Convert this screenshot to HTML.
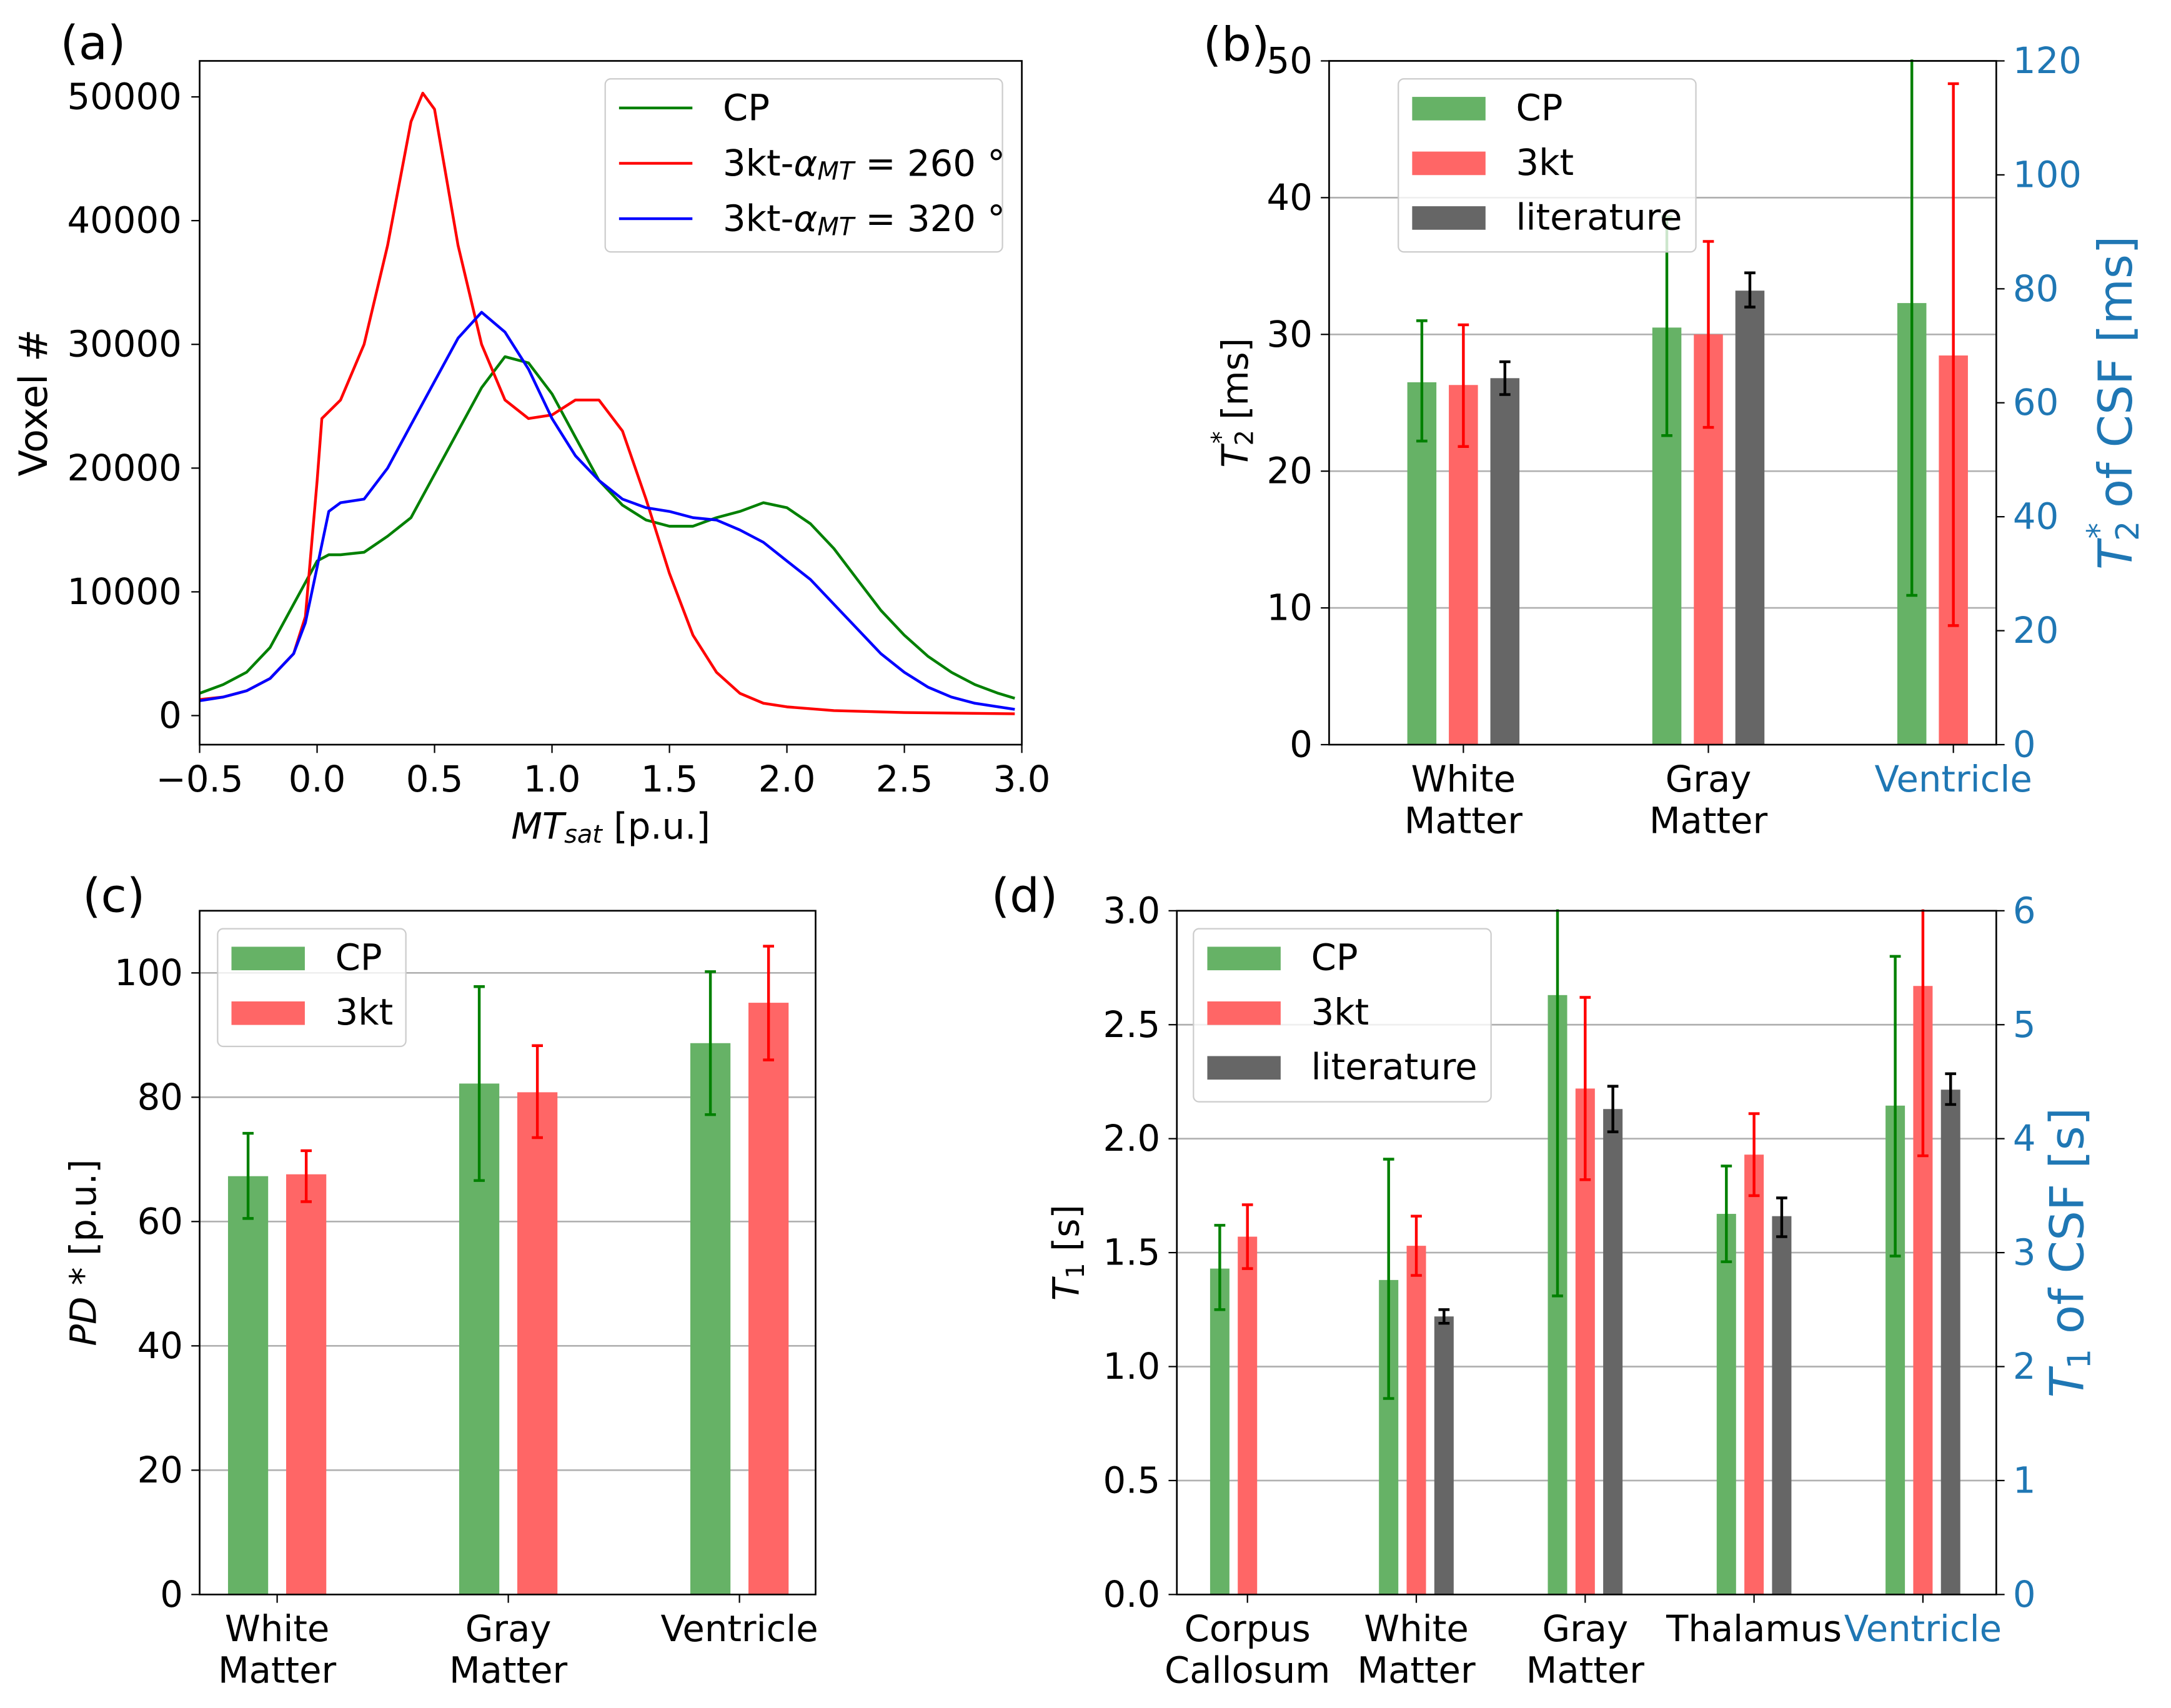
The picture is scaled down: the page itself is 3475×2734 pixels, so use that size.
<!DOCTYPE html>
<html><head><meta charset="utf-8"><style>
html,body{margin:0;padding:0;background:#fff;}
svg{display:block;font-family:"DejaVu Sans","Liberation Sans",sans-serif;}
</style></head><body>
<svg id="fig" width="3475" height="2734" viewBox="0 0 1568 1234" xmlns="http://www.w3.org/2000/svg"></svg>
<script>
// ---------- Panel (a) data ----------
const aCpX = [-0.5,-0.4,-0.3,-0.2,-0.1,0,0.05,0.1,0.2,0.3,0.4,0.5,0.6,0.7,0.8,0.9,1.0,1.1,1.2,1.3,1.4,1.5,1.6,1.7,1.8,1.9,2.0,2.1,2.2,2.3,2.4,2.5,2.6,2.7,2.8,2.9,2.97];
const aCpY = [1800,2500,3500,5500,9000,12500,13000,13000,13200,14500,16000,19500,23000,26500,29000,28500,26000,22500,19000,17000,15800,15300,15300,16000,16500,17200,16800,15500,13500,11000,8500,6500,4800,3500,2500,1800,1400];
const aR260X = [-0.5,-0.4,-0.3,-0.2,-0.1,-0.05,0,0.02,0.1,0.2,0.3,0.4,0.45,0.5,0.6,0.7,0.8,0.9,1.0,1.1,1.2,1.3,1.4,1.5,1.6,1.7,1.8,1.9,2.0,2.2,2.5,2.97];
const aR260Y = [1300,1500,2000,3000,5000,8000,19000,24000,25500,30000,38000,48000,50300,49000,38000,30000,25500,24000,24300,25500,25500,23000,17500,11500,6500,3500,1800,1000,700,400,250,150];
const aB320X = [-0.5,-0.4,-0.3,-0.2,-0.1,-0.05,0,0.05,0.1,0.2,0.3,0.4,0.5,0.6,0.7,0.8,0.9,1.0,1.1,1.2,1.3,1.4,1.5,1.6,1.7,1.8,1.9,2.0,2.1,2.2,2.3,2.4,2.5,2.6,2.7,2.8,2.9,2.97];
const aB320Y = [1200,1500,2000,3000,5000,7500,12000,16500,17200,17500,20000,23500,27000,30500,32600,31000,28000,24000,21000,19000,17500,16800,16500,16000,15800,15000,14000,12500,11000,9000,7000,5000,3500,2300,1500,1000,700,500];
const aXTicks = [-0.5,0,0.5,1,1.5,2,2.5,3];
const aXTickLabels = ["\u22120.5","0.0","0.5","1.0","1.5","2.0","2.5","3.0"];
const aYTicks = [0,10000,20000,30000,40000,50000];

// ---------- Panel (b) data ----------
const bCats = ["White Matter","Gray Matter","Ventricle"];
const bCp = [26.5,30.5,77.5];
const bCpLo = [22.2,22.6,26.2];
const bCpHi = [31.0,38.6,125];
const b3kt = [26.3,30.0,68.3];
const b3ktLo = [21.8,23.2,20.9];
const b3ktHi = [30.7,36.8,116];
const bLit = [26.8,33.2,null];
const bLitLo = [25.6,32.0,null];
const bLitHi = [28.0,34.5,null];
const bYTicks = [0,10,20,30,40,50];
const bY2Ticks = [0,20,40,60,80,100,120];

// ---------- Panel (c) data ----------
const cCats = ["White Matter","Gray Matter","Ventricle"];
const cCp = [67.3,82.2,88.7];
const cCpLo = [60.5,66.6,77.2];
const cCpHi = [74.2,97.8,100.2];
const c3kt = [67.6,80.8,95.2];
const c3ktLo = [63.2,73.5,86.0];
const c3ktHi = [71.4,88.3,104.3];
const cYTicks = [0,20,40,60,80,100];

// ---------- Panel (d) data ----------
const dCats = ["Corpus Callosum","White Matter","Gray Matter","Thalamus","Ventricle"];
const dCp = [1.43,1.38,2.63,1.67,4.29];
const dCpLo = [1.25,0.86,1.31,1.46,2.97];
const dCpHi = [1.62,1.91,3.2,1.88,5.6];
const d3kt = [1.57,1.53,2.22,1.93,5.34];
const d3ktLo = [1.43,1.40,1.82,1.75,3.85];
const d3ktHi = [1.71,1.66,2.62,2.11,6.4];
const dLit = [null,1.22,2.13,1.66,4.43];
const dLitLo = [null,1.19,2.03,1.57,4.30];
const dLitHi = [null,1.25,2.23,1.74,4.57];
const dYTicks = [0,0.5,1,1.5,2,2.5,3];
const dY2Ticks = [0,1,2,3,4,5,6];

const NS = "http://www.w3.org/2000/svg";
const fig = document.getElementById('fig');
const TS = 26;
function mk(tag, attrs, name, parent, inter) {
  const el = document.createElementNS(NS, tag);
  for (const k in attrs) el.setAttribute(k, attrs[k]);
  
  
  (parent || fig).appendChild(el);
  return el;
}
function txt(x, y, s, name, opt) {
  opt = opt || {};
  const t = mk('text', {x:x, y:y, 'font-size':opt.size||TS, fill:opt.fill||'#000',
    'text-anchor':opt.anchor||'middle', 'dominant-baseline':'central'}, name, opt.parent);
  if (opt.rot) t.setAttribute('transform', 'rotate(' + opt.rot + ' ' + x + ' ' + y + ')');
  if (opt.html) t.innerHTML = s; else t.textContent = s;
  return t;
}
const GREEN='rgb(102,178,102)', RED='rgb(255,102,102)', GRAY='rgb(102,102,102)', BLUE='#1f77b4';

// ===== Panel A =====
(function(){
  const L=144,R=738,T=44,B=538;
  const sx = v => L + (v + 0.5) / 3.5 * (R - L);
  const sy = v => 517 - v * (517 - 70) / 50000;
  const g = mk('g', {}, 'panel-a');
  txt(67, 31, '(a)', 'panel-a-label', {size:34, parent:g});
  const clip = mk('clipPath', {id:'clipA'}, 'clip-a', g);
  mk('rect', {x:L,y:T,width:R-L,height:B-T}, 'clip-a-rect', clip);
  const series = [[aCpX,aCpY,'green','cp-curve'],[aR260X,aR260Y,'red','3kt-260-curve'],[aB320X,aB320Y,'blue','3kt-320-curve']];
  series.forEach(s => {
    const d = s[0].map((x,i) => (i?'L':'M') + sx(x).toFixed(1) + ',' + sy(s[1][i]).toFixed(1)).join(' ');
    mk('path', {d:d, fill:'none', stroke:s[2], 'stroke-width':2, 'stroke-linejoin':'round', 'clip-path':'url(#clipA)'}, s[3], g);
  });
  mk('rect', {x:L,y:T,width:R-L,height:B-T,fill:'none',stroke:'#000','stroke-width':1.2}, 'plot-frame-a', g);
  aXTicks.forEach((v,i) => {
    mk('line', {x1:sx(v),x2:sx(v),y1:B,y2:B+6,stroke:'#000'}, 'x-tick-a', g);
    txt(sx(v), B+25, aXTickLabels[i], 'x-tick-label-a', {parent:g});
  });
  aYTicks.forEach(v => {
    mk('line', {x1:L-6,x2:L,y1:sy(v),y2:sy(v),stroke:'#000'}, 'y-tick-a', g);
    txt(L-13, sy(v), String(v), 'y-tick-label-a', {anchor:'end', parent:g});
  });
  txt(441, 597, '<tspan font-style="italic">MT</tspan><tspan font-style="italic" font-size="18" dy="6">sat</tspan><tspan dy="-6"> [p.u.]</tspan>', 'x-axis-title-a', {html:true, parent:g});
  txt(24, 291, 'Voxel #', 'y-axis-title-a', {rot:-90, size:28, parent:g});
  const lg = mk('g', {}, 'legend-a', g);
  mk('rect', {x:437,y:57,width:287,height:125,rx:4,fill:'#fff','fill-opacity':0.8,stroke:'#ccc'}, 'legend-frame-a', lg);
  const labs = ['CP','3kt-<tspan font-style="italic">α</tspan><tspan font-style="italic" font-size="18" dy="6">MT</tspan><tspan dy="-6"> = 260 °</tspan>','3kt-<tspan font-style="italic">α</tspan><tspan font-style="italic" font-size="18" dy="6">MT</tspan><tspan dy="-6"> = 320 °</tspan>'];
  ['green','red','blue'].forEach((c,i) => {
    const y = 78 + i*40;
    mk('line', {x1:447,x2:500,y1:y,y2:y,stroke:c,'stroke-width':2}, 'legend-line-a', lg);
    txt(522, y, labs[i], 'legend-entry-a', {anchor:'start', html:true, parent:lg});
  });
})();

function errbar(g, x, lo, hi, sy, color, clipId) {
  const a = {stroke:color,'stroke-width':2};
  if (clipId) a['clip-path'] = 'url(#' + clipId + ')';
  mk('line', Object.assign({x1:x,x2:x,y1:sy(lo),y2:sy(hi)}, a), 'error-bar', g);
  mk('line', Object.assign({x1:x-4,x2:x+4,y1:sy(lo),y2:sy(lo)}, a), 'error-cap', g);
  mk('line', Object.assign({x1:x-4,x2:x+4,y1:sy(hi),y2:sy(hi)}, a), 'error-cap', g);
}

function barPanel(cfg) {
  const {L,R,T,B,name} = cfg;
  const g = mk('g', {}, name);
  txt(cfg.labelX, cfg.labelY, cfg.label, name + '-label', {size:34, parent:g});
  const clip = mk('clipPath', {id:'clip'+name}, 'clip', g);
  mk('rect', {x:L,y:T-1,width:R-L,height:B-T+1}, 'clip-rect', clip);
  const sy = v => B - v / cfg.yMax * (B - T);
  const sy2 = v => B - v / (cfg.y2Max || 1) * (B - T);
  cfg.yTicks.forEach(v => {
    if (v > 0) mk('line', {x1:L,x2:R,y1:sy(v),y2:sy(v),stroke:'#b0b0b0','stroke-width':1.2}, 'grid-line', g);
  });
  const series = cfg.series;
  cfg.cats.forEach((c,i) => {
    const cx = L + cfg.x0 + i * cfg.step;
    const right = cfg.rightIdx === i;
    const s = right ? sy2 : sy;
    series.forEach((sr,k) => {
      const v = sr.v[i];
      if (v === null) return;
      const bx = cx + cfg.offs[k];
      mk('rect', {x:bx - cfg.bw/2, y:s(v), width:cfg.bw, height:B - s(v), fill:sr.fill}, 'bar-' + sr.key + '-' + i, g);
    });
    series.forEach((sr,k) => {
      if (sr.v[i] === null) return;
      errbar(g, cx + cfg.offs[k], sr.lo[i], sr.hi[i], s, sr.ec, 'clip'+name);
    });
    mk('line', {x1:cx,x2:cx,y1:B,y2:B+6,stroke:'#000'}, 'x-tick', g);
    const words = c.split(' ');
    const col = right ? BLUE : '#000';
    if (words.length === 1) {
      txt(cx, B+25, c, 'x-tick-label', {fill:col, parent:g});
    } else {
      txt(cx, B+25, words[0], 'x-tick-label', {fill:col, parent:g});
      txt(cx, B+55, words[1], 'x-tick-label', {fill:col, parent:g});
    }
  });
  cfg.yTicks.forEach(v => {
    mk('line', {x1:L-6,x2:L,y1:sy(v),y2:sy(v),stroke:'#000'}, 'y-tick', g);
    txt(L-12, sy(v), String(cfg.fmt ? cfg.fmt(v) : v), 'y-tick-label', {anchor:'end', parent:g});
  });
  if (cfg.y2Ticks) cfg.y2Ticks.forEach(v => {
    mk('line', {x1:R,x2:R+6,y1:sy2(v),y2:sy2(v),stroke:'#000'}, 'y2-tick', g);
    txt(R+12, sy2(v), String(v), 'y2-tick-label', {anchor:'start', fill:BLUE, parent:g});
  });
  mk('rect', {x:L,y:T,width:R-L,height:B-T,fill:'none',stroke:'#000','stroke-width':1.2}, 'plot-frame', g);
  const lg = mk('g', {}, 'legend-' + name, g);
  const lh = 5 + series.length * 40;
  mk('rect', {x:cfg.legX,y:T+13,width:cfg.legW,height:lh,rx:4,fill:'#fff','fill-opacity':0.8,stroke:'#ccc'}, 'legend-frame', lg);
  series.forEach((sr,k) => {
    const y = T + 34 + k*39.5;
    mk('rect', {x:cfg.legX+10,y:y-8,width:53,height:17,fill:sr.fill}, 'legend-patch-' + sr.key, lg);
    txt(cfg.legX+85, y, sr.label, 'legend-entry-' + sr.key, {anchor:'start', parent:lg});
  });
  txt(cfg.ylx, (T+B)/2, cfg.ylab, 'y-axis-title', {rot:-90, html:true, parent:g});
  if (cfg.y2lab) txt(cfg.y2lx, (T+B)/2, cfg.y2lab, 'y2-axis-title', {rot:-90, size:34, fill:BLUE, html:true, parent:g});
}

barPanel({name:'panel-b', label:'(b)', labelX:893, labelY:32, L:960, R:1442, T:44, B:538,
  cats:bCats, x0:97, step:177, offs:[-30,0,30], bw:21, yMax:50, y2Max:120, rightIdx:2,
  yTicks:bYTicks, y2Ticks:bY2Ticks, legX:1010, legW:215,
  series:[{key:'cp',label:'CP',v:bCp,lo:bCpLo,hi:bCpHi,fill:GREEN,ec:'green'},
          {key:'3kt',label:'3kt',v:b3kt,lo:b3ktLo,hi:b3ktHi,fill:RED,ec:'red'},
          {key:'lit',label:'literature',v:bLit,lo:bLitLo,hi:bLitHi,fill:GRAY,ec:'#000'}],
  ylx:892, ylab:'<tspan font-style="italic">T</tspan><tspan font-size="18" dy="7">2</tspan><tspan font-size="18" dx="-10" dy="-17">*</tspan><tspan dy="10"> [ms]</tspan>',
  y2lx:1528, y2lab:'<tspan font-style="italic">T</tspan><tspan font-size="23" dy="9">2</tspan><tspan font-size="23" dx="-13" dy="-21">*</tspan><tspan dy="12"> of CSF [ms]</tspan>'});

barPanel({name:'panel-c', label:'(c)', labelX:82, labelY:647, L:144, R:589, T:658, B:1152,
  cats:cCats, x0:56, step:167, offs:[-21,21], bw:29, yMax:110,
  yTicks:cYTicks, legX:157, legW:136,
  series:[{key:'cp',label:'CP',v:cCp,lo:cCpLo,hi:cCpHi,fill:GREEN,ec:'green'},
          {key:'3kt',label:'3kt',v:c3kt,lo:c3ktLo,hi:c3ktHi,fill:RED,ec:'red'}],
  ylx:60, ylab:'<tspan font-style="italic">PD</tspan> * [p.u.]'});

barPanel({name:'panel-d', label:'(d)', labelX:740, labelY:647, L:850, R:1442, T:658, B:1152,
  cats:dCats, x0:51, step:122, offs:[-20,0,20], bw:14, yMax:3, y2Max:6, rightIdx:4,
  yTicks:dYTicks, y2Ticks:dY2Ticks, legX:862, legW:215, fmt:v=>v.toFixed(1),
  series:[{key:'cp',label:'CP',v:dCp,lo:dCpLo,hi:dCpHi,fill:GREEN,ec:'green'},
          {key:'3kt',label:'3kt',v:d3kt,lo:d3ktLo,hi:d3ktHi,fill:RED,ec:'red'},
          {key:'lit',label:'literature',v:dLit,lo:dLitLo,hi:dLitHi,fill:GRAY,ec:'#000'}],
  ylx:770, ylab:'<tspan font-style="italic">T</tspan><tspan font-size="18" dy="7">1</tspan><tspan dy="-7"> [s]</tspan>',
  y2lx:1493, y2lab:'<tspan font-style="italic">T</tspan><tspan font-size="23" dy="9">1</tspan><tspan dy="-9"> of CSF [s]</tspan>'});
</script>
</body></html>
